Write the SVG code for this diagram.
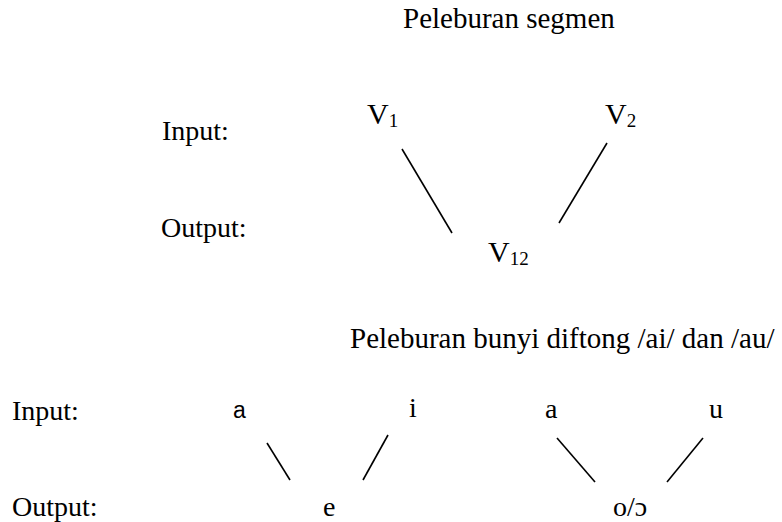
<svg xmlns="http://www.w3.org/2000/svg" width="782" height="522" viewBox="0 0 782 522">
  <style>
    text { font-family: "Liberation Serif", "Times New Roman", serif; font-size: 28px; fill: #000; }
    .title { font-size: 29px; }
    .big { font-size: 30px; }
    .sub { font-size: 19px; }
    .sans { font-family: "Liberation Sans", Arial, sans-serif; font-size: 23px; }
    .edge { stroke: #000; stroke-width: 1.6; fill: none; }
  </style>
  <rect width="782" height="522" fill="#fff"/>

  <!-- Segment fusion -->
  <text class="title" x="403" y="28">Peleburan segmen</text>
  <text x="162" y="140">Input:</text>
  <text x="161" y="237">Output:</text>

  <g id="v1"><text class="big" x="367" y="124">V<tspan class="sub" dy="3">1</tspan></text></g>
  <g id="v2"><text class="big" x="605" y="124">V<tspan class="sub" dy="3">2</tspan></text></g>
  <g id="v12"><text class="big" x="488" y="262">V<tspan class="sub" dy="3">12</tspan></text></g>

  <!-- Diphthong fusion -->
  <text class="title" x="350" y="348">Peleburan bunyi diftong /ai/ dan /au/</text>
  <text x="12" y="420">Input:</text>
  <text x="12" y="516">Output:</text>

  <g id="a1"><text class="sans" x="233" y="418">a</text></g>
  <g id="i"><text x="409" y="417">i</text></g>
  <g id="a2"><text x="545" y="418">a</text></g>
  <g id="u"><text x="709" y="418">u</text></g>
  <g id="e"><text x="323" y="516">e</text></g>
  <g id="o"><text x="613" y="516">o/ɔ</text></g>

  <g id="connectors">
    <line class="edge" x1="402" y1="149" x2="452" y2="233"/>
    <line class="edge" x1="607" y1="143" x2="559" y2="223"/>
    <line class="edge" x1="267" y1="443" x2="290" y2="480"/>
    <line class="edge" x1="388" y1="435" x2="363" y2="480"/>
    <line class="edge" x1="557" y1="438" x2="595" y2="482"/>
    <line class="edge" x1="703" y1="438" x2="667" y2="482"/>
  </g>
</svg>
